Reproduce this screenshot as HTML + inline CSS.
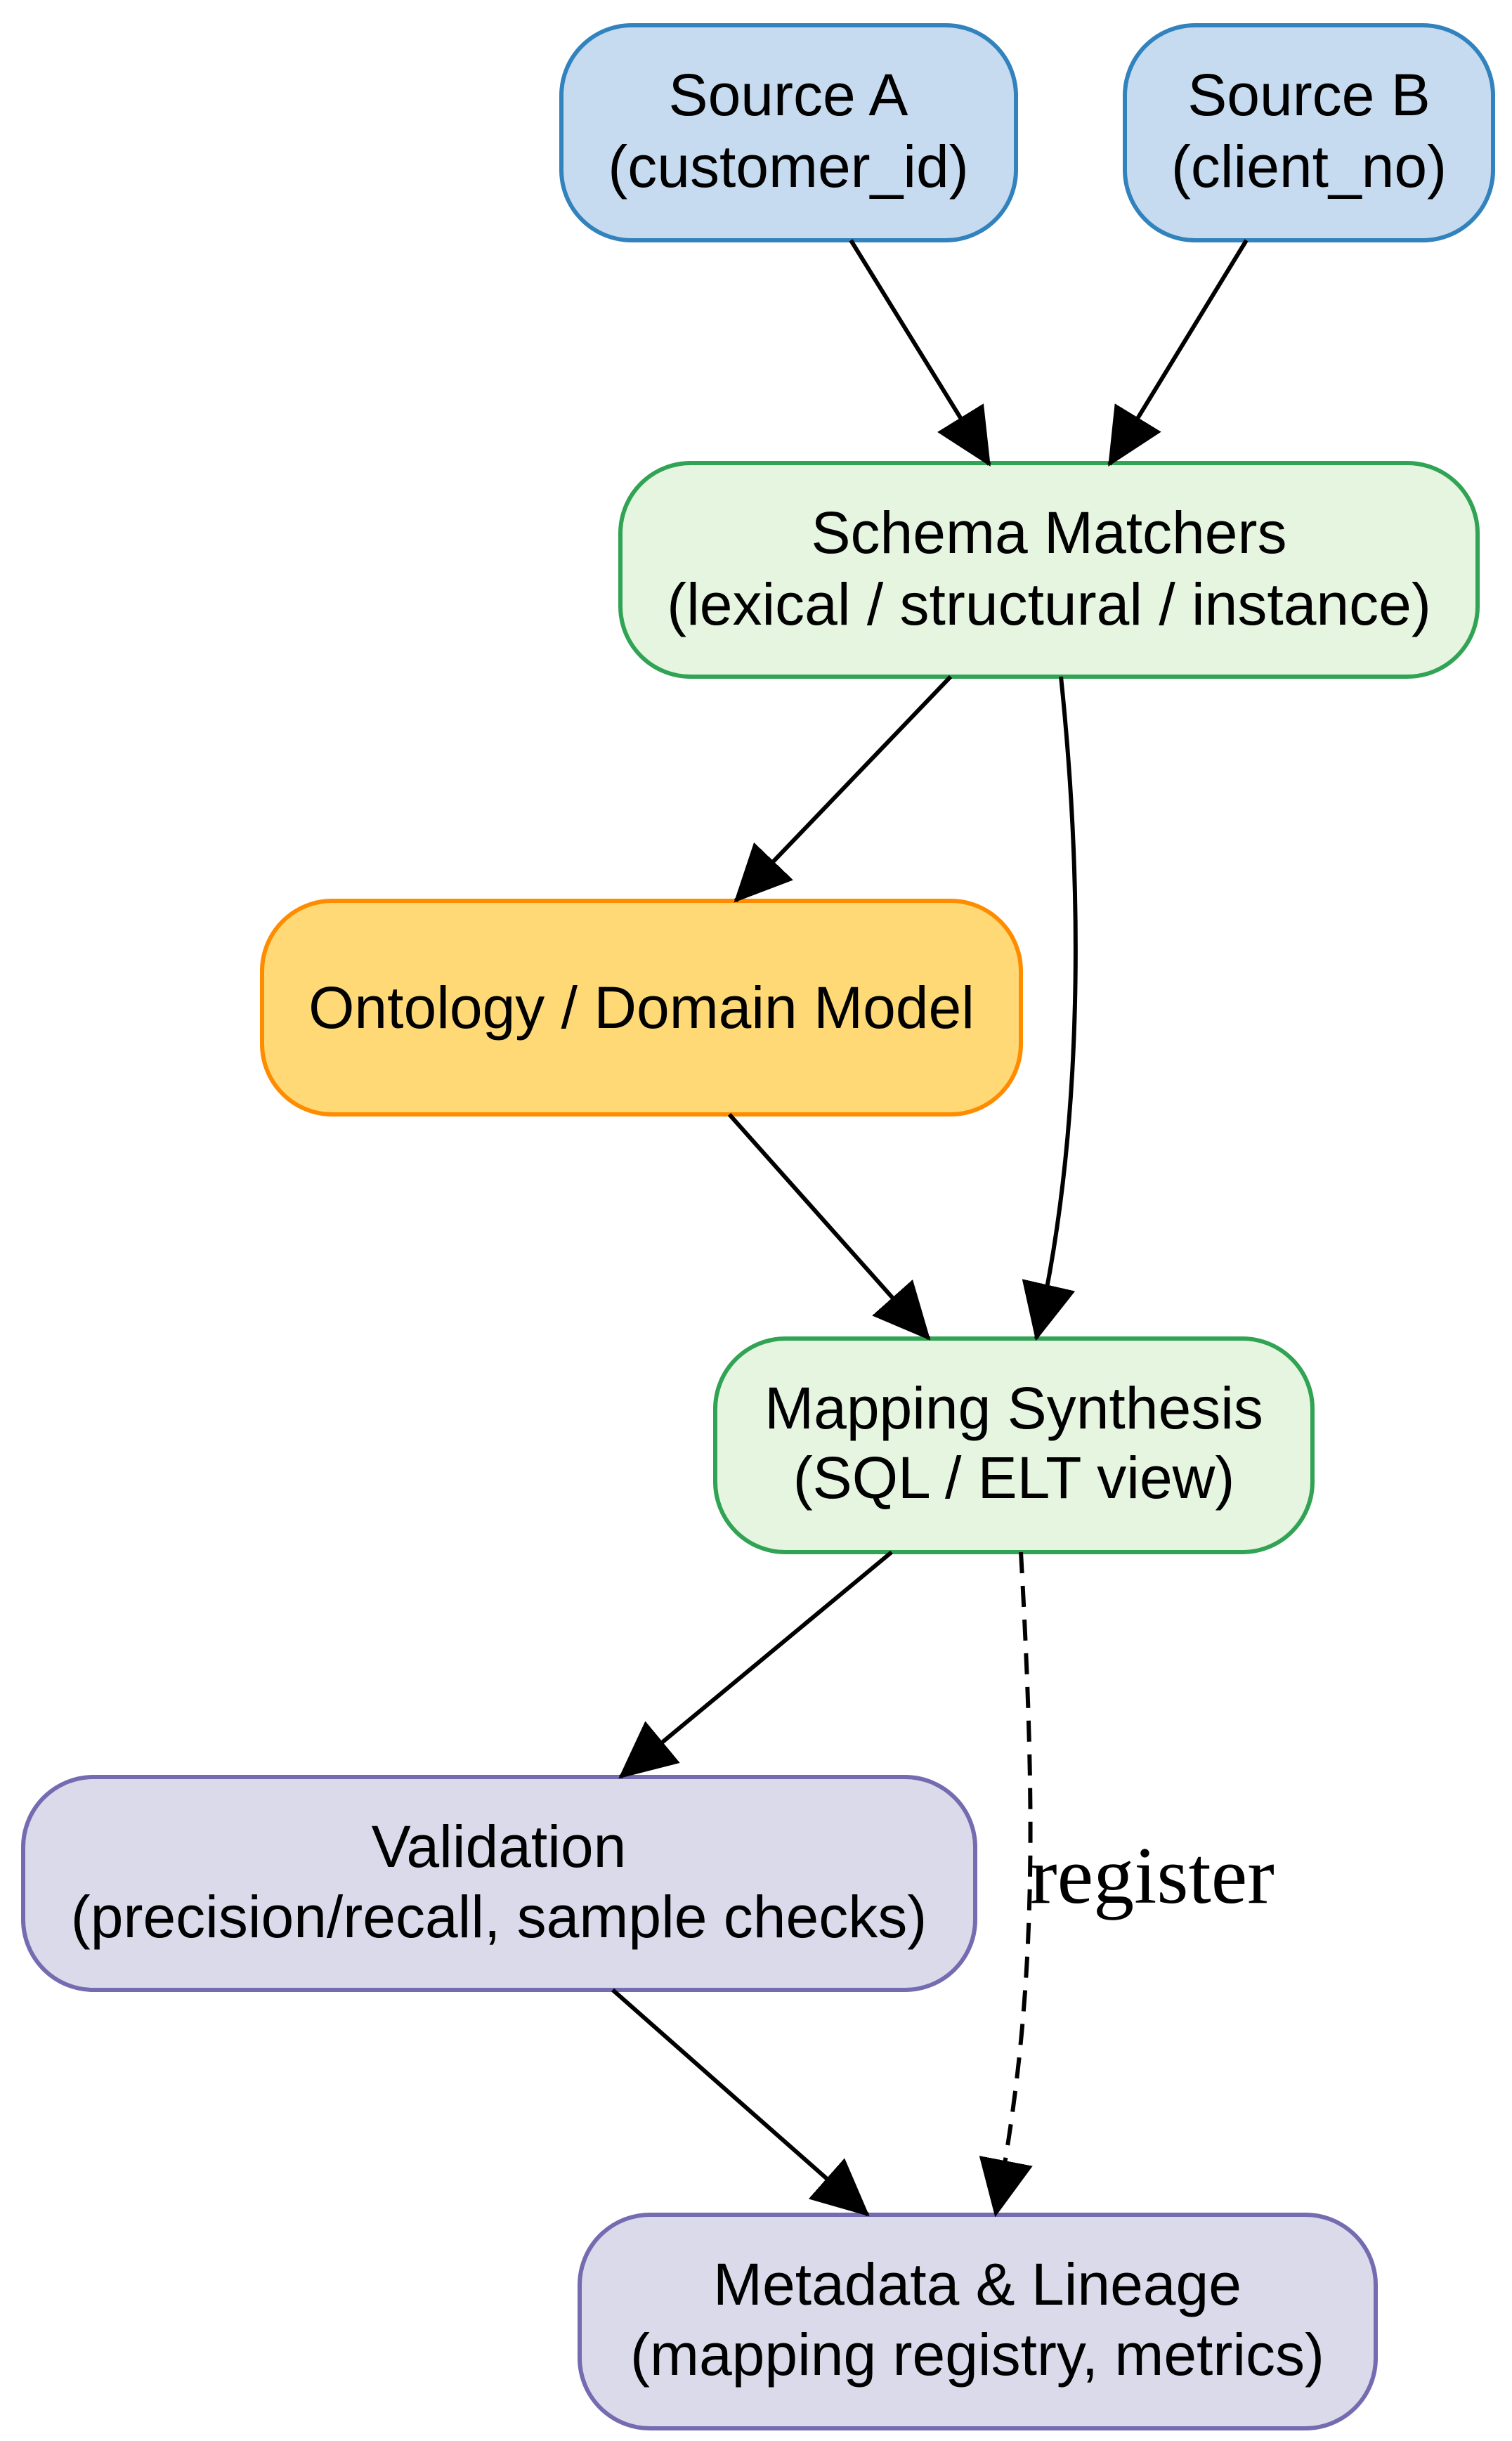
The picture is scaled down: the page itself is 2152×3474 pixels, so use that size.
<!DOCTYPE html>
<html><head><style>html,body{margin:0;padding:0;background:#fff}svg{display:block}</style></head>
<body>
<svg width="2152" height="3474" viewBox="0 0 2152 3474" xmlns="http://www.w3.org/2000/svg">
<defs>
<marker id="ah" markerUnits="userSpaceOnUse" markerWidth="90" markerHeight="90" refX="78" refY="45" orient="auto">
<path d="M0,8 L78,45 L0,82 Z" fill="#000" stroke="#000" stroke-width="3"/>
</marker>
</defs>
<g font-family="Liberation Sans, sans-serif" font-size="84" text-anchor="middle" fill="#000">
<rect x="799" y="36" width="647" height="306" rx="100" fill="#c6dbef" stroke="#3182bd" stroke-width="6"/>
<text x="1122" y="164">Source A</text><text x="1122" y="266">(customer_id)</text>
<rect x="1601" y="36" width="524" height="306" rx="100" fill="#c6dbef" stroke="#3182bd" stroke-width="6"/>
<text x="1863" y="164">Source B</text><text x="1863" y="266">(client_no)</text>
<rect x="883" y="659" width="1220" height="304" rx="100" fill="#e5f5e0" stroke="#31a354" stroke-width="6"/>
<text x="1493" y="787">Schema Matchers</text><text x="1493" y="889">(lexical / structural / instance)</text>
<rect x="373" y="1282" width="1080" height="304" rx="100" fill="#fed976" stroke="#ff8c00" stroke-width="6"/>
<text x="913" y="1463">Ontology / Domain Model</text>
<rect x="1018" y="1905" width="850" height="304" rx="100" fill="#e5f5e0" stroke="#31a354" stroke-width="6"/>
<text x="1443" y="2033">Mapping Synthesis</text><text x="1443" y="2132">(SQL / ELT view)</text>
<rect x="33" y="2529" width="1355" height="303" rx="100" fill="#dadaeb" stroke="#756bb1" stroke-width="6"/>
<text x="710" y="2657">Validation</text><text x="710" y="2757">(precision/recall, sample checks)</text>
<rect x="825" y="3152" width="1133" height="304" rx="100" fill="#dadaeb" stroke="#756bb1" stroke-width="6"/>
<text x="1391" y="3280">Metadata &amp; Lineage</text><text x="1391" y="3380">(mapping registry, metrics)</text>
</g>
<g fill="none" stroke="#000" stroke-width="6">
<path d="M1211,342 L1408,661" marker-end="url(#ah)"/>
<path d="M1774,342 L1579,661" marker-end="url(#ah)"/>
<path d="M1353,963 L1047,1282" marker-end="url(#ah)"/>
<path d="M1510,963 C1540,1250 1545,1600 1475,1905" marker-end="url(#ah)"/>
<path d="M1038,1586 L1322,1905" marker-end="url(#ah)"/>
<path d="M1269,2209 L883,2529" marker-end="url(#ah)"/>
<path d="M1453,2209 C1475,2600 1475,2850 1417,3152" stroke-dasharray="30,18" marker-end="url(#ah)"/>
<path d="M872,2832 L1235,3152" marker-end="url(#ah)"/>
</g>
<text x="1466" y="2708" font-family="Liberation Serif, serif" font-size="116" fill="#000">register</text>
</svg>
</body></html>
